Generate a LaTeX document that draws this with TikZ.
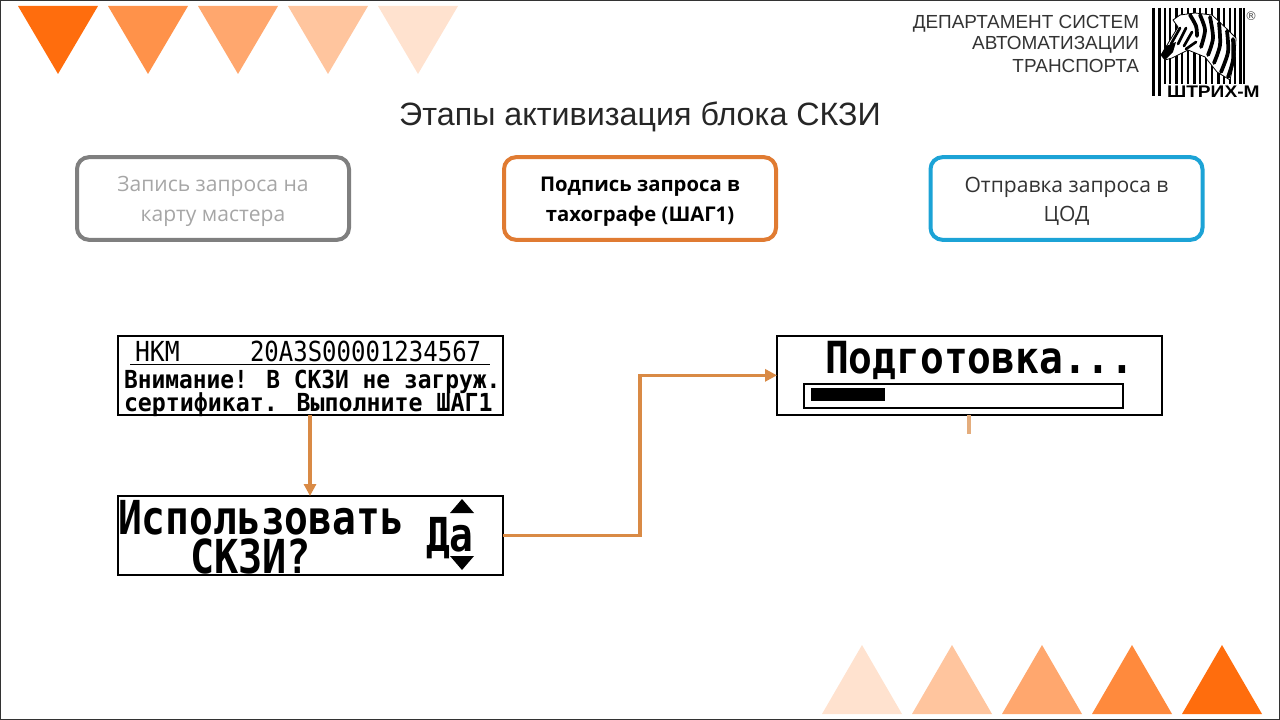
\documentclass[tikz,border=0pt]{standalone}
\usepackage{fontspec}
\setmainfont{Liberation Sans}
\newfontfamily\lcdfont{DejaVu Sans Mono}
\newfontfamily\stepfont{Open Sans}
\newfontfamily\markfont{DejaVu Sans}
\usetikzlibrary{arrows.meta,positioning}
\definecolor{markorange}{HTML}{FF6D0D}
\definecolor{linkorange}{HTML}{D98A45}
\definecolor{stepgrey}{HTML}{7F7F7F}
\definecolor{stepblue}{HTML}{1CA3D6}
\definecolor{stepline}{HTML}{E07B32}
\newcommand{\steptop}{\rule{0pt}{15.6pt}}
\begin{document}
\begin{tikzpicture}[
    x=0.75pt, y=-0.75pt,
    every node/.style={inner sep=0pt, outer sep=0pt},
    stepbox/.style={draw, rounded corners=9pt, line width=3pt, align=center, minimum width=204pt, minimum height=62pt, font=\stepfont\fontsize{15.8}{22}\selectfont},
    lcd/.style={draw, line width=1.3pt, minimum width=289pt, minimum height=59pt, anchor=north west},
    lcdtext/.style={font=\lcdfont\bfseries, anchor=base west},
    flow/.style={-{Triangle[length=9pt,width=9pt]}, line width=2.4pt, linkorange},
    pennant/.style={fill=markorange, draw=none},
    headtext/.style={anchor=base east, font=\fontsize{14.2}{17}\selectfont, text=black!80},
    stripe/.style={line width=2.8pt, black, line cap=round}
]
\useasboundingbox (0,0) rectangle (1280,720);
\draw[line width=1pt, black!80] (0,0) rectangle (1280,720);

% triangles, top row and bottom row
\foreach \cx/\op in {58/1,148/.75,238/.6,328/.4,418/.2}
    \fill[pennant, fill opacity=\op] (\cx-40,6) -- (\cx+40,6) -- (\cx,74) -- cycle;
\foreach \cx/\op in {862/.2,952/.4,1042/.6,1132/.8,1222/1}
    \fill[pennant, fill opacity=\op] (\cx-40,714) -- (\cx+40,714) -- (\cx,645) -- cycle;

% header
\node[headtext] (dept1) at (1139,29) {ДЕПАРТАМЕНТ СИСТЕМ};
\node[headtext] (dept2) at (1139,50) {АВТОМАТИЗАЦИИ};
\node[headtext] (dept3) at (1139,73) {ТРАНСПОРТА};
\node[anchor=base, font=\fontsize{24.2}{28}\selectfont, text=black!85] (title) at (640,126) {Этапы активизация блока СКЗИ};

% logo
\foreach \bx/\bw in {1153/3,1159/3,1165/2,1170/2,1176/3,1182/2,1188/2,1194/3,1200/2,1206/2,1212/2,1218/3,1224/2,1230/2,1235/2,1240/3,1244/2}
    \draw[line width=\bw*0.75pt] (\bx,8) -- (\bx,96);
\fill[white] (1163,84) rectangle (1262,101);
\fill[white, draw=black, line width=.6pt] (1161,55) -- (1178,27) -- (1173,20) -- (1180,15) -- (1195,13) -- (1212,15) -- (1228,30) -- (1236,38) -- (1235,57) -- (1230,80) -- (1217,72) -- (1205,57) -- (1188,50) -- (1172,58) -- (1165,60) -- cycle;
\fill (1161,55) -- (1166,46) -- (1176,42) -- (1173,52) -- (1165,60) -- cycle;
\foreach \ax/\ay/\bx/\by in {1180/28/1171/44,1186/28/1178/44,1192/32/1184/46,1196/42/1186/49}
    \draw[stripe, line width=2pt] (\ax,\ay) -- (\bx,\by);
\foreach \ax/\ay/\bx/\by/\cx/\cy in {1190/15/1196/26/1197/36,1200/15/1205/30/1201/47,1210/17/1213/38/1208/55,1219/23/1220/45/1214/63,1227/31/1228/52/1221/72,1233/39/1233/60/1228/77}
    \draw[stripe] plot[smooth] coordinates {(\ax,\ay) (\bx,\by) (\cx,\cy)};
\node[anchor=base west, font=\bfseries\fontsize{12.6}{14}\selectfont, text=black] (brand) at (1167,98) {\scalebox{1.14}[1]{ШТРИХ-М}};
\node[anchor=center, font=\markfont\fontsize{9}{10}\selectfont, text=black!70] (reg) at (1251,16) {®};

% steps
\node[stepbox, draw=stepgrey, text=black!35] (record) at (213,198.5) {\steptop Запись запроса на\\карту мастера};
\node[stepbox, draw=stepline, font=\stepfont\bfseries\fontsize{15.2}{22}\selectfont] (sign) at (640,198.5) {\steptop Подпись запроса в\\тахографе (ШАГ1)};
\node[stepbox, draw=stepblue, text=black!80] (send) at (1066.5,198.5) {\steptop Отправка запроса в\\ЦОД};

% displays
\node[lcd] (notice) at (118,336) {};
\node[lcd] (usage) at (118,496) {};
\node[lcd] (prepare) at (777,336) {};

\node[lcdtext, font=\lcdfont\fontsize{18}{20}\selectfont] (hkm) at (135,361) {\scalebox{1.03}[1.15]{HKM}};
\node[lcdtext, font=\lcdfont\fontsize{18}{20}\selectfont] (serial) at (250,361) {\scalebox{1}[1.15]{20A3S00001234567}};
\draw[line width=.5pt] (130,364) -- (490,364);
\node[lcdtext, font=\lcdfont\bfseries\fontsize{15.5}{18}\selectfont] (warn) at (124,388) {\scalebox{1.107}[1.2]{Внимание! В СКЗИ не загруж.}};
\node[lcdtext, font=\lcdfont\bfseries\fontsize{15.5}{18}\selectfont] (cert) at (124,411) {\scalebox{1.125}[1.2]{сертификат. Выполните ШАГ1}};

\node[lcdtext, font=\lcdfont\bfseries\fontsize{27}{30}\selectfont] (ask) at (118,534) {\scalebox{1.1}[1.3]{Использовать}};
\node[lcdtext, font=\lcdfont\bfseries\fontsize{27}{30}\selectfont] (skzi) at (190,573) {\scalebox{1.117}[1.3]{СКЗИ?}};
\node[lcdtext, font=\lcdfont\bfseries\fontsize{27}{30}\selectfont] (yes) at (426,551) {\scalebox{1.1}[1.3]{Да}};
\fill (450,513) -- (474,513) -- (462,499) -- cycle;
\fill (450,556) -- (474,556) -- (462,570) -- cycle;

\node[lcdtext, font=\lcdfont\bfseries\fontsize{31}{34}\selectfont] (wait) at (825,373) {\scalebox{.957}[1.07]{Подготовка...}};
\draw[line width=1.3pt] (804,384) rectangle (1123,408);
\fill (811,388) rectangle (885,401);

% connectors
\coordinate (bend) at (640,535);
\coordinate (stub) at (969,434);
\draw[flow] (notice.south -| 310,0) -- (usage.north -| 310,0);
\draw[flow] (usage.east) -- (usage.east -| bend) -- (bend |- prepare.west) -- (prepare.west);
\draw[line width=2.4pt, linkorange!70] (prepare.south -| stub) -- (stub);
\end{tikzpicture}
\end{document}
